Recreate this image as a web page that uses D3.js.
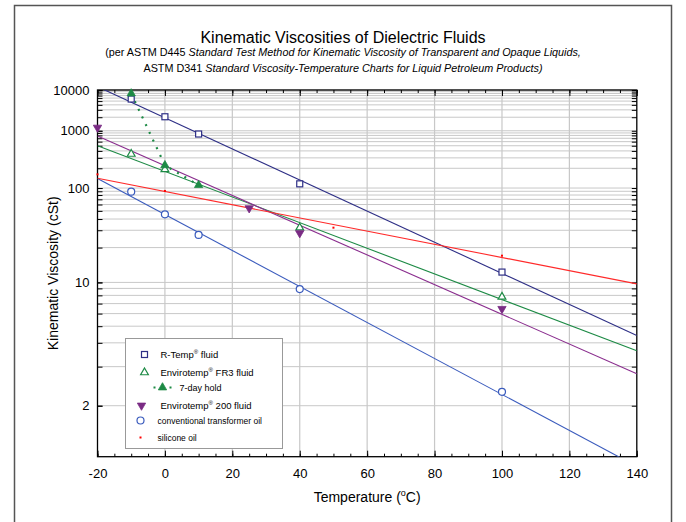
<!DOCTYPE html>
<html>
<head>
<meta charset="utf-8">
<script src="https://cdn.jsdelivr.net/npm/d3@7"></script>
<style>
    body { margin: 0; background: #fff; }
    svg { font-family: "Liberation Sans", Arial, sans-serif; }
</style>
</head>
<body>
<svg id="chart" width="686" height="522"></svg>
<script>

// ---- data ----
var tempLabels = [-20, 0, 20, 40, 60, 80, 100, 120, 140];
var viscLabels = [2, 10, 100, 1000, 10000];

// R-Temp fluid
var rTempT = [-10, 0, 10, 40, 100];
var rTempV = [5660, 2050, 855, 115, 12.1];
// Envirotemp FR3 fluid
var fr3T = [-10, 0, 40, 100];
var fr3V = [351, 192, 32, 7.8];
// FR3, 7-day hold
var holdT = [-10, 0, 10];
var holdV = [8000, 224, 110];
// Envirotemp 200 fluid
var e200T = [-20, 25, 40, 100];
var e200V = [1170, 54, 28, 6.45];
// conventional transformer oil
var convT = [-10, 0, 10, 40, 100];
var convV = [89, 45.5, 26.8, 8.9, 2.29];
// silicone oil
var siliconeT = [-20, 0, 50, 100];
var siliconeV = [160, 91, 32, 16.8];

// fitted lines, value at -20 C and at 140 C
var fitT = [-20, 140];
var rTempFit = [12450, 4.40];
var fr3Fit = [500, 3.62];
var e200Fit = [777, 2.77];
var convFit = [138, 1.21];
var siliconeFit = [139, 9.74];

// ---- layout ----
var plot = {left: 97.5, top: 90, width: 539.3, height: 366.7};
var viscMin = 1.3, viscMax = 10000;

// ASTM D341 ordinate: log log (v + 0.7)
function loglog(v) {
    return Math.log10(Math.log10(v + 0.7));
}

var svg = d3.select('#chart');

// outer frame
svg.append('rect')
    .attr('x', 14.5).attr('y', 5.5)
    .attr('width', 657).attr('height', 530)
    .attr('fill', 'none')
    .attr('stroke', '#555').attr('stroke-width', 1.5);

var x = d3.scaleLinear().domain([-20, 140]).range([0, plot.width]);
var yT = d3.scaleLinear().domain([loglog(viscMin), loglog(viscMax)]).range([plot.height, 0]);
function y(v) { return yT(loglog(v)); }

// minor y ticks: 2..9 of every decade up to 10000
var viscTicks = [];
[1, 10, 100, 1000].forEach(function (dec) {
    for (var k = (dec === 1 ? 2 : 1); k < 10; k++) viscTicks.push(k * dec);
});
viscTicks.push(10000);
var tempMinor = d3.range(-20, 141, 5);

var g = svg.append('g')
    .attr('transform', 'translate(' + plot.left + ',' + plot.top + ')');

g.append('clipPath').attr('id', 'clip')
    .append('rect').attr('width', plot.width).attr('height', plot.height);

// grid
g.append('g').attr('class', 'grid-h')
    .selectAll('line').data(viscTicks).enter().append('line')
    .attr('x1', 0).attr('x2', plot.width)
    .attr('y1', function (d) { return y(d); })
    .attr('y2', function (d) { return y(d); })
    .attr('stroke', '#c8c8c8').attr('stroke-width', 1);

g.append('g').attr('class', 'grid-v')
    .selectAll('line').data(tempLabels.slice(1, -1)).enter().append('line')
    .attr('x1', function (d) { return x(d); })
    .attr('x2', function (d) { return x(d); })
    .attr('y1', 0).attr('y2', plot.height)
    .attr('stroke', '#c8c8c8').attr('stroke-width', 1.2);

// axes, ticks pointing inward on all four sides
function styleAxis(sel) {
    sel.select('.domain').remove();
    sel.selectAll('.tick line').attr('stroke', '#000');
    sel.selectAll('.tick text')
        .attr('fill', '#000')
        .style('font-size', '13px')
        .style('font-family', '"Liberation Sans", Arial, sans-serif');
}

g.append('g').attr('transform', 'translate(0,' + plot.height + ')')
    .call(d3.axisBottom(x).tickValues(tempMinor).tickSize(-3).tickFormat(''))
    .call(styleAxis);
g.append('g').attr('transform', 'translate(0,' + plot.height + ')')
    .call(d3.axisBottom(x).tickValues(tempLabels).tickSize(-6).tickPadding(12)
        .tickFormat(function (d) { return String(d); }))
    .call(styleAxis);
g.append('g')
    .call(d3.axisTop(x).tickValues(tempMinor).tickSize(-3).tickFormat(''))
    .call(styleAxis);
g.append('g')
    .call(d3.axisTop(x).tickValues(tempLabels).tickSize(-6).tickFormat(''))
    .call(styleAxis);

g.append('g')
    .call(d3.axisLeft(yT).tickValues(viscTicks.map(loglog)).tickSize(-5).tickFormat(''))
    .call(styleAxis);
g.append('g')
    .call(d3.axisLeft(yT).tickValues(viscLabels.map(loglog)).tickSize(-5).tickPadding(8)
        .tickFormat(function (d) {
            return String(Math.round(Math.pow(10, Math.pow(10, d)) - 0.7));
        }))
    .call(styleAxis);
g.append('g').attr('transform', 'translate(' + plot.width + ',0)')
    .call(d3.axisRight(yT).tickValues(viscTicks.map(loglog)).tickSize(-5).tickFormat(''))
    .call(styleAxis);

g.append('rect')
    .attr('width', plot.width).attr('height', plot.height)
    .attr('fill', 'none').attr('stroke', '#000').attr('stroke-width', 1.3);

// fitted lines
var fits = [
    {v: rTempFit, color: '#2e2f86'},
    {v: fr3Fit, color: '#1d8a45'},
    {v: e200Fit, color: '#8a2d8e'},
    {v: convFit, color: '#3a5bbd'},
    {v: siliconeFit, color: '#ff2a2a'}
];
var line = d3.line()
    .x(function (d) { return x(d[0]); })
    .y(function (d) { return y(d[1]); });

var lines = g.append('g').attr('clip-path', 'url(#clip)');
fits.forEach(function (f) {
    lines.append('path')
        .datum(d3.zip(fitT, f.v))
        .attr('d', line)
        .attr('fill', 'none')
        .attr('stroke', f.color).attr('stroke-width', 1.1);
});

// 7-day hold dotted connector
lines.append('path')
    .datum(d3.zip(holdT, holdV))
    .attr('d', line)
    .attr('fill', 'none')
    .attr('stroke', '#1d8a45').attr('stroke-width', 2.2)
    .attr('stroke-dasharray', '2,6.5');

// markers
var tri = d3.symbol().type(d3.symbolTriangle);

function drawMarker(sel, type, color) {
    if (type === 'square') {
        sel.append('rect').attr('x', -3).attr('y', -3).attr('width', 6).attr('height', 6)
            .attr('fill', '#fff').attr('stroke', color).attr('stroke-width', 1.2);
    } else if (type === 'triOpen') {
        sel.append('path').attr('d', tri.size(26)())
            .attr('fill', '#fff').attr('stroke', color).attr('stroke-width', 1.2);
    } else if (type === 'triFill') {
        sel.append('path').attr('d', tri.size(30)())
            .attr('fill', color).attr('stroke', color).attr('stroke-width', 0.8);
    } else if (type === 'triDown') {
        sel.append('path').attr('d', tri.size(30)()).attr('transform', 'rotate(180)')
            .attr('fill', color).attr('stroke', color).attr('stroke-width', 0.8);
    } else if (type === 'circle') {
        sel.append('circle').attr('r', 3.5)
            .attr('fill', '#fff').attr('stroke', color).attr('stroke-width', 1.2);
    } else if (type === 'dot') {
        sel.append('rect').attr('x', -1).attr('y', -1).attr('width', 2).attr('height', 2)
            .attr('fill', color);
    }
}

var series = [
    {t: rTempT, v: rTempV, type: 'square', color: '#2e2f86'},
    {t: fr3T, v: fr3V, type: 'triOpen', color: '#1d8a45'},
    {t: holdT, v: holdV, type: 'triFill', color: '#1d8a45'},
    {t: e200T, v: e200V, type: 'triDown', color: '#7a2b84'},
    {t: convT, v: convV, type: 'circle', color: '#3a5bbd'},
    {t: siliconeT, v: siliconeV, type: 'dot', color: '#ff0000'}
];

var marks = g.append('g');
series.forEach(function (s) {
    marks.selectAll(null).data(d3.zip(s.t, s.v)).enter()
        .append('g')
        .attr('transform', function (d) {
            return 'translate(' + x(d[0]) + ',' + y(d[1]) + ')';
        })
        .each(function () { drawMarker(d3.select(this), s.type, s.color); });
});

// legend
var legend = svg.append('g').attr('transform', 'translate(125.5,338.5)');
legend.append('rect')
    .attr('width', 157).attr('height', 110)
    .attr('fill', '#fff').attr('stroke', '#999').attr('stroke-width', 1);

var legendItems = [
    {type: 'square', color: '#2e2f86', mx: 19, y: 16, tx: 35, name: 'R-Temp', sup: '®', rest: ' fluid', size: 9.5},
    {type: 'triOpen', color: '#1d8a45', mx: 19, y: 34, tx: 35, name: 'Envirotemp', sup: '®', rest: ' FR3 fluid', size: 9.5},
    {type: 'triFill', color: '#1d8a45', mx: 37, y: 49, tx: 54, name: '7-day hold', sup: '', rest: '', size: 9},
    {type: 'triDown', color: '#7a2b84', mx: 16, y: 67, tx: 35, name: 'Envirotemp', sup: '®', rest: ' 200 fluid', size: 9.5},
    {type: 'circle', color: '#3a5bbd', mx: 15, y: 82, tx: 32, name: 'conventional transformer oil', sup: '', rest: '', size: 8.5},
    {type: 'dot', color: '#ff0000', mx: 15, y: 99, tx: 32, name: 'silicone oil', sup: '', rest: '', size: 8.5}
];

legendItems.forEach(function (it) {
    var m = legend.append('g').attr('transform', 'translate(' + it.mx + ',' + it.y + ')');
    drawMarker(m, it.type, it.color);
    if (it.type === 'triFill') {
        legend.append('line')
            .attr('x1', it.mx - 9).attr('x2', it.mx + 13)
            .attr('y1', it.y).attr('y2', it.y)
            .attr('stroke', it.color).attr('stroke-width', 2.2)
            .attr('stroke-dasharray', '2,6');
    }
    var t = legend.append('text')
        .attr('x', it.tx).attr('y', it.y + 3.5)
        .style('font-size', it.size + 'px')
        .attr('fill', '#000');
    t.append('tspan').text(it.name);
    if (it.sup) {
        t.append('tspan').attr('dy', -4).style('font-size', '6px').text(it.sup);
        t.append('tspan').attr('dy', 4).text(it.rest);
    }
});

// titles
svg.append('text')
    .attr('x', 343).attr('y', 43)
    .attr('text-anchor', 'middle')
    .style('font-size', '16px')
    .text('Kinematic Viscosities of Dielectric Fluids');

var sub1 = svg.append('text')
    .attr('x', 343).attr('y', 56)
    .attr('text-anchor', 'middle')
    .style('font-size', '10.8px');
sub1.append('tspan').text('(per ASTM D445 ');
sub1.append('tspan').style('font-style', 'italic')
    .text('Standard Test Method for Kinematic Viscosity of Transparent and Opaque Liquids,');

var sub2 = svg.append('text')
    .attr('x', 343).attr('y', 72)
    .attr('text-anchor', 'middle')
    .style('font-size', '10.8px');
sub2.append('tspan').text('ASTM D341 ');
sub2.append('tspan').style('font-style', 'italic')
    .text('Standard Viscosity-Temperature Charts for Liquid Petroleum Products)');

svg.append('text')
    .attr('transform', 'translate(58,' + (plot.top + plot.height / 2) + ') rotate(-90)')
    .attr('text-anchor', 'middle')
    .style('font-size', '14px')
    .text('Kinematic Viscosity (cSt)');

var xl = svg.append('text')
    .attr('x', plot.left + plot.width / 2).attr('y', 502)
    .attr('text-anchor', 'middle')
    .style('font-size', '14px');
xl.append('tspan').text('Temperature (');
xl.append('tspan').attr('dy', -6).style('font-size', '9px').text('o');
xl.append('tspan').attr('dy', 6).text('C)');

</script>
</body>
</html>
